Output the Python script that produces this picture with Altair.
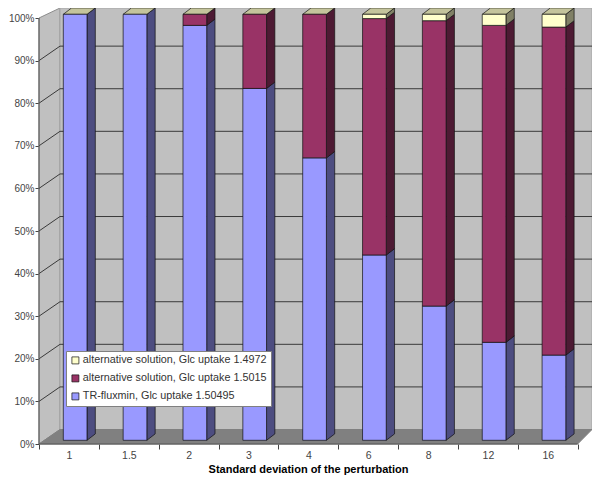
import altair as alt
import pandas as pd

categories = ["1", "1.5", "2", "3", "4", "6", "8", "12", "16"]
tr_fluxmin = [100, 100, 97.4, 82.6, 66.3, 43.5, 31.5, 23, 20]
alt_15015 = [0, 0, 2.6, 17.4, 33.7, 55.5, 67, 74.4, 77]
alt_14972 = [0, 0, 0, 0, 0, 1, 1.5, 2.6, 3]
names = ["TR-fluxmin, Glc uptake 1.50495",
         "alternative solution, Glc uptake 1.5015",
         "alternative solution, Glc uptake 1.4972"]
front_colors = ["#9999FF", "#993366", "#FFFFCC"]
side_colors = ["#4D4D80", "#4D1A33", "#808066"]
top_color = "#C4C49C"

# Layout of the pseudo-3D box, in data units (x: categories, y: percent)
XMAX, YMAX = 9.24, 102.35
WALL_DX, WALL_DY = 0.351, 3.4
BAR_LEFT, BAR_W = 0.406, 0.396
BAR_DX, BAR_DY = 0.139, 1.5
BAR_BASE = 0.87

xs = alt.Scale(domain=[0, XMAX], nice=False, zero=False)
ys = alt.Scale(domain=[0, YMAX], nice=False, zero=False)


def X(f="x"):
    return alt.X(f"{f}:Q", scale=xs, axis=None, title=None)


def Y(f="y"):
    return alt.Y(f"{f}:Q", scale=ys, axis=None, title=None)


EDGE = "#808080"
wall = "#C0C0C0"

left_wall = alt.Chart(pd.DataFrame({"x": [0, WALL_DX], "y": [0, WALL_DY], "y2": [100, YMAX]})).mark_area(
    color=wall, stroke="#8C8C8C", strokeWidth=1
).encode(x=X(), y=Y(), y2="y2:Q")

back_wall = alt.Chart(pd.DataFrame({"x": [WALL_DX], "x2": [XMAX], "y": [WALL_DY], "y2": [YMAX]})).mark_rect(
    color=wall, stroke="#A6A6A6", strokeWidth=1
).encode(x=X(), x2="x2:Q", y=Y(), y2="y2:Q")

floor = alt.Chart(pd.DataFrame({"y": [0, WALL_DY], "x": [0, WALL_DX], "x2": [9, XMAX]})).mark_area(
    orient="horizontal", color="#808080", stroke=EDGE, strokeWidth=1
).encode(y=Y(), x=X(), x2="x2:Q")

pcts = list(range(10, 101, 10))
grid_rows = []
for p in pcts:
    grid_rows += [{"p": p, "o": 0, "x": 0, "y": p},
                  {"p": p, "o": 1, "x": WALL_DX, "y": p + WALL_DY},
                  {"p": p, "o": 2, "x": XMAX, "y": p + WALL_DY}]
grid = alt.Chart(pd.DataFrame(grid_rows)).transform_filter("datum.y <= %s" % YMAX).mark_line(
    color="#3A3A3A", strokeWidth=1
).encode(x=X(), y=Y(), detail="p:N", order="o:Q")

# Axes: real axes on an invisible layer; the axis lines are drawn to the front edge only.
axes = alt.Chart(pd.DataFrame({"x": [0], "y": [0]})).mark_point(opacity=0).encode(
    x=alt.X("x:Q", scale=xs, title="Standard deviation of the perturbation",
            axis=alt.Axis(values=list(range(10)), domain=False, grid=False, tickSize=5,
                          tickColor="#444444",
                          labelExpr="%r[datum.value] || ''" % (categories,),
                          labelOffset=30, labelBound=False, labelFlush=False,
                          labelPadding=1, labelFontSize=10.5, labelColor="#444444",
                          labelFont="Liberation Sans", labelAngle=0,
                          titleFont="Liberation Sans", titleFontSize=11, titleFontWeight="bold",
                          titleColor="#000000", titleX=269, titleY=19.5, titleAnchor="middle")),
    y=alt.Y("y:Q", scale=ys, title=None,
            axis=alt.Axis(values=list(range(0, 101, 10)), domain=False, grid=False, tickSize=4,
                          tickColor="#444444", labelExpr="datum.value + '%'",
                          labelPadding=1, labelFontSize=10, labelColor="#444444",
                          labelFont="Liberation Sans", labelBound=False, labelFlush=False)),
)
axis_lines = alt.Chart(pd.DataFrame({"x": [0, 0, 9], "y": [100, 0, 0]}).reset_index()).mark_line(
    color="#555555", strokeWidth=1
).encode(x=X(), y=Y(), order="index:Q")

# Bars
rows = []
for i, cat in enumerate(categories):
    base = 0.0
    for s, vals in enumerate([tr_fluxmin, alt_15015, alt_14972]):
        v = vals[i]
        if v > 0:
            rows.append({"i": i, "s": s, "name": names[s],
                         "x": i + BAR_LEFT, "x2": i + BAR_LEFT + BAR_W,
                         "y": base + BAR_BASE, "y2": base + v + BAR_BASE})
        base += v
bars = pd.DataFrame(rows)

side_rows = []
for r in rows:
    side_rows += [{"k": f"{r['i']}-{r['s']}", "s": r["s"], "x": r["x2"], "y": r["y"], "y2": r["y2"]},
                  {"k": f"{r['i']}-{r['s']}", "s": r["s"], "x": r["x2"] + BAR_DX,
                   "y": r["y"] + BAR_DY, "y2": r["y2"] + BAR_DY}]
sides = pd.DataFrame(side_rows)

top_rows = []
for i in range(len(categories)):
    t = tr_fluxmin[i] + alt_15015[i] + alt_14972[i] + BAR_BASE
    l = i + BAR_LEFT
    top_rows += [{"i": i, "y": t, "x": l, "x2": l + BAR_W},
                 {"i": i, "y": t + BAR_DY, "x": l + BAR_DX, "x2": l + BAR_W + BAR_DX}]
tops = pd.DataFrame(top_rows)

side_layers = [
    alt.Chart(sides[sides.s == s]).mark_area(color=side_colors[s], stroke="#111111", strokeWidth=0.7).encode(
        x=X(), y=Y(), y2="y2:Q", detail="k:N")
    for s in range(3)
]
top_layer = alt.Chart(tops).mark_area(orient="horizontal", color=top_color, stroke="#111111", strokeWidth=0.7).encode(
    y=Y(), x=X(), x2="x2:Q", detail="i:N")

front = alt.Chart(bars).mark_rect(stroke="#111111", strokeWidth=0.7).encode(
    x=X(), x2="x2:Q", y=Y(), y2="y2:Q",
    color=alt.Color("name:N",
                    scale=alt.Scale(domain=names[::-1], range=front_colors[::-1]),
                    sort=names[::-1],
                    legend=alt.Legend(orient="none", legendX=27, legendY=343, title=None,
                                      fillColor="#FFFFFF", strokeColor="#808080", padding=4,
                                      symbolType="square", symbolSize=49, symbolStrokeColor="#111111",
                                      symbolStrokeWidth=0.7, symbolOpacity=1, labelFontSize=10.8,
                                      labelFont="Liberation Sans", labelColor="#333333",
                                      labelLimit=260, rowPadding=6, labelOffset=2)),
)

chart = alt.layer(
    axes, left_wall, back_wall, floor, grid, axis_lines, *side_layers, top_layer, front
).resolve_axis(x="independent", y="independent").properties(
    width=553, height=436, autosize="none",
    padding={"left": 31, "top": 0, "right": 0, "bottom": 32},
    background="#FFFFFF",
).configure_view(stroke=None)

chart.save("out.html", embed_options={"renderer": "svg", "actions": False})
